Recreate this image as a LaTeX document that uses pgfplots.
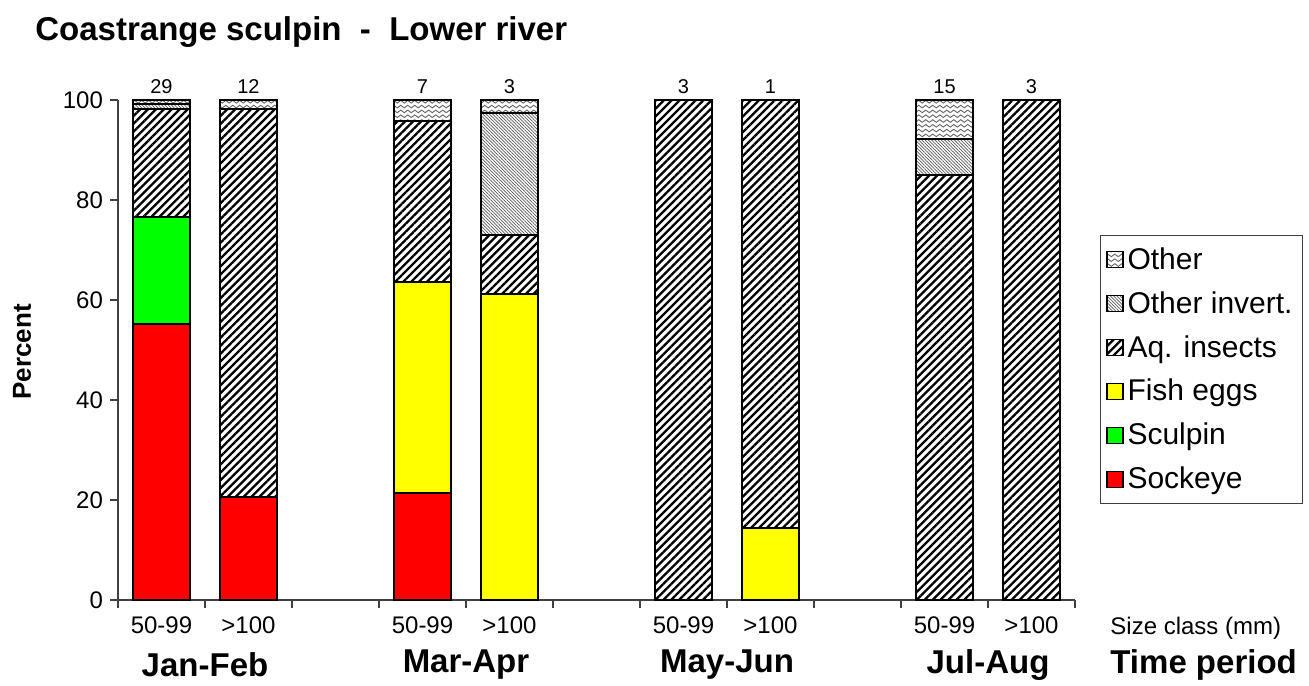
\documentclass[border=0pt]{standalone}
\usepackage{pgfplots}
\pgfplotsset{compat=1.18}
\usepackage{pgfplotstable}
\usepackage{fontspec}
\setmainfont{Liberation Sans}
\usetikzlibrary{patterns,patterns.meta}

\definecolor{sockeye}{HTML}{FF0000}
\definecolor{sculpin}{HTML}{00FF00}
\definecolor{eggs}{HTML}{FFFF00}

\tikzset{
  samplesize/.style={anchor=base, font=\fontsize{10}{12}\selectfont, yshift=3pt},
  period/.style={font=\bfseries\fontsize{16.5}{19}\selectfont, yshift=-32.5pt},
}

% wavy fill for "Other"
\tikzdeclarepattern{
  name=wavy,
  type=uncolored,
  bounding box={(-0.5pt,-0.5pt) and (4pt,2.9pt)},
  tile size={(3.5pt,2.4pt)},
  code={
    \draw[line width=0.45pt] (0pt,1.2pt) sin (0.875pt,1.85pt) cos (1.75pt,1.2pt)
      sin (2.625pt,0.55pt) cos (3.5pt,1.2pt);
  }
}

% percent of diet, slots 2, 5, 8 left empty
\pgfplotstableread{
x  sock scul eggs aq   oinv oth  n
0  55.2 21.4 0    21.6 1.0  0.8  29
1  20.6 0    0    77.6 0    1.8  12
3  21.4 0    42.2 32.2 0    4.2  7
4  0    0    61.1 11.9 24.3 2.7  3
6  0    0    0    100  0    0    3
7  0    0    14.4 85.6 0    0    1
9  0    0    0    85.0 7.2  7.8  15
10 0    0    0    100  0    0    3
}\diet

\begin{document}
\begin{tikzpicture}
\useasboundingbox (-59pt,-42.5pt) rectangle (595.5pt,300pt);
\begin{axis}[
    at={(0pt,0pt)}, anchor=south west,
    scale only axis, width=478.5pt, height=250pt,
    ybar stacked, bar width=28.5pt,
    xmin=-0.5, xmax=10.5, ymin=0, ymax=100,
    axis x line*=bottom, axis y line*=left,
    axis line style={-, line width=0.6pt, black!75},
    tick align=outside, major tick length=4pt,
    tick style={line width=0.6pt, black!75},
    xtick={-0.5,0.5,...,10.5}, xticklabels={},
    extra x ticks={0,1,3,4,6,7,9,10},
    extra x tick labels={50-99,>100,50-99,>100,50-99,>100,50-99,>100},
    extra x tick style={major tick length=0pt, xticklabel style={yshift=-5pt}},
    ytick={0,20,...,100},
    ticklabel style={font=\fontsize{12}{14}\selectfont},
    /pgf/number format/assume math mode=true,
    clip=false,
    reverse legend,
    legend style={at={(1.026,0.73)}, anchor=north west, draw=black!75,
        font=\fontsize{15}{17}\selectfont, row sep=5.6pt,
        inner xsep=3pt, inner ysep=4pt, cells={anchor=west}},
    legend image code/.code={\draw[#1, line width=0.6pt] (0pt,-4pt) rectangle (8pt,4pt);},
    every axis plot/.append style={draw=black, line width=1pt},
]
\addplot[fill=sockeye] table[x=x, y=sock] {\diet};
\addplot[fill=sculpin] table[x=x, y=scul] {\diet};
\addplot[fill=eggs] table[x=x, y=eggs] {\diet};
\addplot[pattern={Lines[angle=45, distance=2.8pt, line width=1.15pt]}] table[x=x, y=aq] {\diet};
\addplot[pattern={Lines[angle=-45, distance=1.15pt, line width=0.35pt]}, pattern color=black!65] table[x=x, y=oinv] {\diet};
\addplot[pattern=wavy, pattern color=black!60] table[x=x, y=oth] {\diet};
\legend{Sockeye, Sculpin, Fish eggs, Aq. insects, Other invert., Other}

% sample sizes
\node[samplesize] at (axis cs:0,100) {29};
\node[samplesize] at (axis cs:1,100) {12};
\node[samplesize] at (axis cs:3,100) {7};
\node[samplesize] at (axis cs:4,100) {3};
\node[samplesize] at (axis cs:6,100) {3};
\node[samplesize] at (axis cs:7,100) {1};
\node[samplesize] at (axis cs:9,100) {15};
\node[samplesize] at (axis cs:10,100) {3};

\node[period] at (axis cs:0.5,0) {Jan-Feb};
\node[period] at (axis cs:3.5,0) {Mar-Apr};
\node[period] at (axis cs:6.5,0) {May-Jun};
\node[period] at (axis cs:9.5,0) {Jul-Aug};
\end{axis}

\node[anchor=west, inner sep=0pt, font=\bfseries\fontsize{16.5}{19}\selectfont] at (-41.5pt,284pt) {Coastrange sculpin\ \ -\ \ Lower river};
\node[rotate=90, font=\bfseries\fontsize{13}{15}\selectfont] at (-48pt,124pt) {Percent};
\node[anchor=west, inner sep=0pt, font=\fontsize{12}{14}\selectfont] at (496pt,-14pt) {Size class (mm)};
\node[anchor=west, inner sep=0pt, font=\bfseries\fontsize{16.5}{19}\selectfont] at (496pt,-32.5pt) {Time period};
\end{tikzpicture}
\end{document}
